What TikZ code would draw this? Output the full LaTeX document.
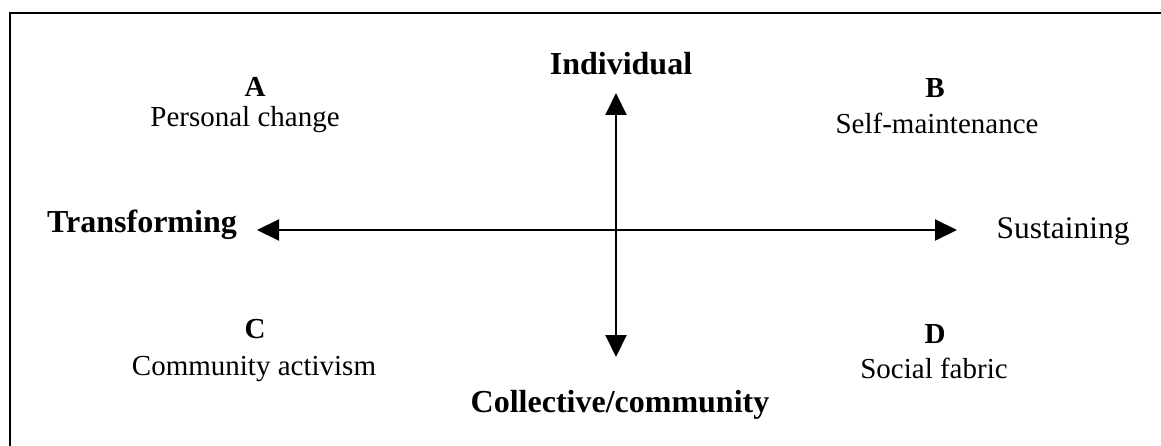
\documentclass[tikz,border=0pt]{standalone}
\usepackage{fontspec}
\setmainfont{Liberation Serif}
\usetikzlibrary{arrows.meta}
\begin{document}
\begin{tikzpicture}[x=1pt,y=-1pt,
  axisbold/.style={font=\fontsize{32}{38}\selectfont\bfseries, inner sep=0pt, anchor=base},
  axisreg/.style={font=\fontsize{31.5}{38}\selectfont, inner sep=0pt, anchor=base},
  qletter/.style={font=\fontsize{29}{34}\selectfont\bfseries, inner sep=0pt, anchor=base},
  qtext/.style={font=\fontsize{29}{34}\selectfont, inner sep=0pt, anchor=base},
  axisline/.style={line width=2pt, {Triangle[length=22pt,width=21pt]}-{Triangle[length=22pt,width=21pt]}},
  frameline/.style={line width=2pt}]
\useasboundingbox (0,0) rectangle (1161,446);
% frame
\coordinate (ftl) at (10,13);
\coordinate (ftr) at (1161,13);
\coordinate (fbl) at (10,446);
\draw[frameline] (fbl) -- (ftl) -- (ftr);
% axis labels
\node[axisbold] (ind) at (621,75) {Individual};
\node[axisbold] (col) at (620,412) {Collective/community};
\node[axisbold] (tra) at (142,233) {Transforming};
\node[axisreg] (sus) at (1063,239) {Sustaining};
% quadrants
\node[qletter] (qa) at (255,97) {A};
\node[qtext] (ta) at (245,127) {Personal change};
\node[qletter] (qb) at (935,98) {B};
\node[qtext] (tb) at (937,134) {Self-maintenance};
\node[qletter] (qc) at (255,338) {C};
\node[qtext] (tc) at (254,375) {Community activism};
\node[qletter] (qd) at (935,343) {D};
\node[qtext] (td) at (934,378) {Social fabric};
% axes
\coordinate (top) at (616,93);
\coordinate (bot) at (616,357);
\coordinate (lft) at (257,230);
\coordinate (rgt) at (957,230);
\draw[axisline] (bot) -- (top);
\draw[axisline] (lft) -- (rgt);
\end{tikzpicture}
\end{document}
